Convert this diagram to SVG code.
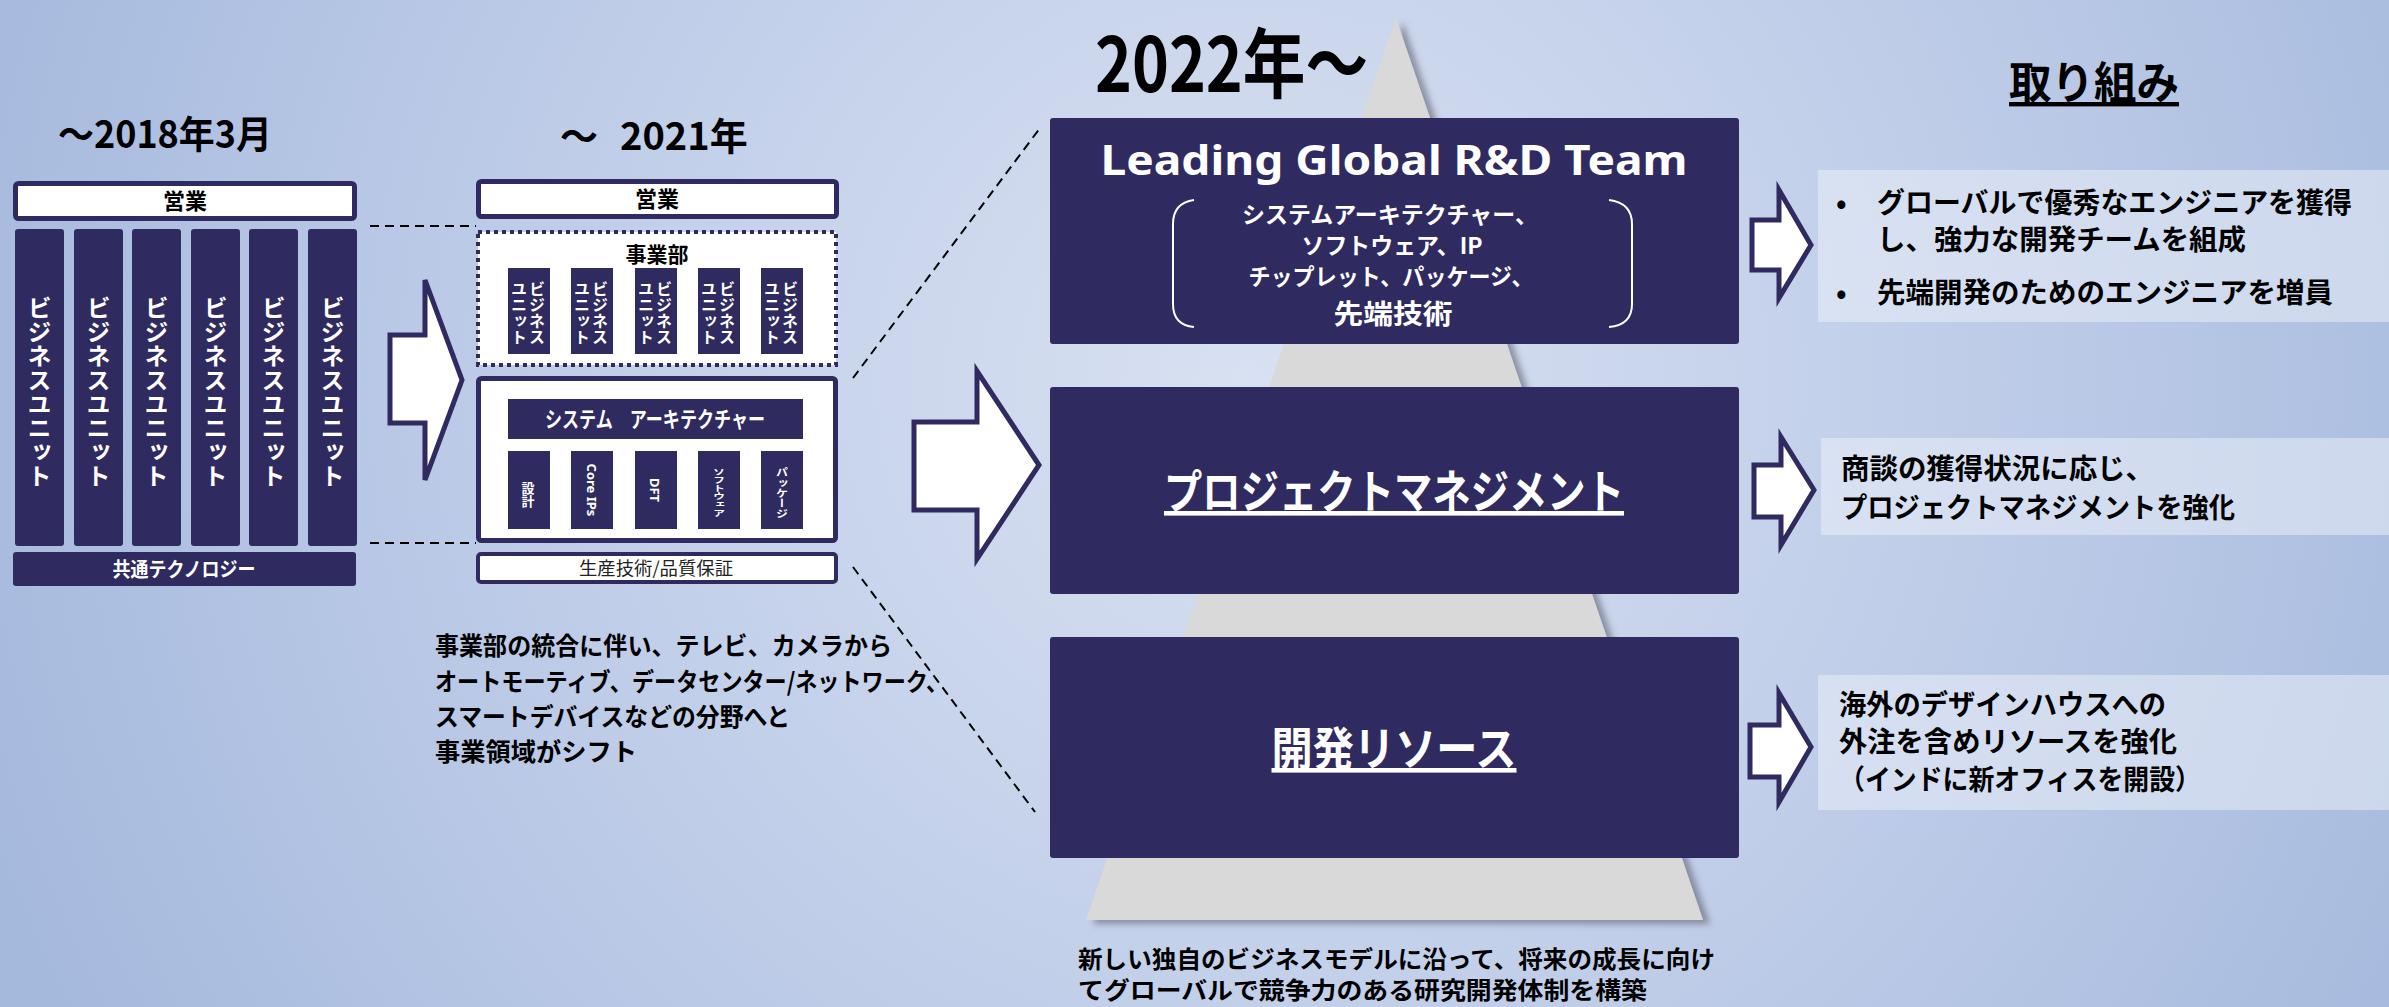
<svg xmlns="http://www.w3.org/2000/svg" width="2389" height="1007" viewBox="0 0 2389 1007">
<defs>
<radialGradient id="bg" gradientUnits="userSpaceOnUse" cx="1250" cy="380" r="1350">
<stop offset="0" stop-color="#d8e1f1"/>
<stop offset="0.45" stop-color="#c3d0ea"/>
<stop offset="1" stop-color="#a5b9dd"/>
</radialGradient>
<filter id="sh" x="-10%" y="-10%" width="130%" height="130%">
<feDropShadow dx="7" dy="4" stdDeviation="3" flood-color="#4a4a5a" flood-opacity="0.5"/>
</filter>
<style>
.jp{font-family:'Noto Sans CJK JP','Noto Sans',sans-serif;}
.lat{font-family:'Noto Sans','Noto Sans CJK JP',sans-serif;}
.b{font-weight:700;}
.w{fill:#ffffff;}
.k{fill:#000000;}
.mid{text-anchor:middle;}
.navy{fill:#2f2a60;}
.wbox{fill:#ffffff;stroke:#2f2a60;stroke-width:5;}
.v{writing-mode:vertical-rl;text-anchor:middle;}
.dash{fill:none;stroke:#000;stroke-width:2;stroke-dasharray:9 6;}
.arrow{fill:#ffffff;stroke:#2f2a60;stroke-width:5;stroke-linejoin:miter;}
.light{fill:#eef2fa;fill-opacity:0.5;}
.ul{text-decoration:underline;}
</style>
</defs>
<rect x="0" y="0" width="2389" height="1007" fill="url(#bg)"/>

<g id="era-2018">
<text class="jp b k" x="58" y="148" font-size="38" textLength="214" lengthAdjust="spacingAndGlyphs">～2018年3月</text>
<g id="sales-2018">
<rect class="wbox" x="15.5" y="183.5" width="339" height="35" rx="3"/>
<text class="jp b k mid" x="185" y="209" font-size="22">営業</text>
</g>
<g id="bu-2018">
<rect class="navy" x="15" y="229" width="49" height="317" rx="3"/>
<rect class="navy" x="74" y="229" width="49" height="317" rx="3"/>
<rect class="navy" x="132" y="229" width="49" height="317" rx="3"/>
<rect class="navy" x="191" y="229" width="49" height="317" rx="3"/>
<rect class="navy" x="249" y="229" width="49" height="317" rx="3"/>
<rect class="navy" x="308" y="229" width="49" height="317" rx="3"/>
<text class="jp b w v" x="39.5" y="392" font-size="24">ビジネスユニット</text>
<text class="jp b w v" x="98.5" y="392" font-size="24">ビジネスユニット</text>
<text class="jp b w v" x="156.5" y="392" font-size="24">ビジネスユニット</text>
<text class="jp b w v" x="215.5" y="392" font-size="24">ビジネスユニット</text>
<text class="jp b w v" x="273.5" y="392" font-size="24">ビジネスユニット</text>
<text class="jp b w v" x="332.5" y="392" font-size="24">ビジネスユニット</text>
</g>
<g id="common-tech">
<rect class="navy" x="13" y="552" width="343" height="34" rx="3"/>
<text class="jp b w mid" x="184" y="577" font-size="20" textLength="143" lengthAdjust="spacingAndGlyphs">共通テクノロジー</text>
</g>
</g>

<g id="era-2021">
<text class="jp b k" x="560" y="150" font-size="38">～ <tspan x="620">2021年</tspan></text>
<g id="sales-2021">
<rect class="wbox" x="478.5" y="181.5" width="358" height="35" rx="3"/>
<text class="jp b k mid" x="657" y="207" font-size="22">営業</text>
</g>
<g id="division">
<rect x="478" y="232" width="358" height="133" fill="#ffffff" stroke="#2f2a60" stroke-width="4" stroke-dasharray="4 4"/>
<text class="jp b k mid" x="657" y="262" font-size="21">事業部</text>
<rect class="navy" x="508" y="268" width="42" height="86"/>
<rect class="navy" x="571" y="268" width="42" height="86"/>
<rect class="navy" x="635" y="268" width="42" height="86"/>
<rect class="navy" x="698" y="268" width="42" height="86"/>
<rect class="navy" x="761" y="268" width="42" height="86"/>
<text class="jp b w v" x="537" y="313" font-size="16">ビジネス</text>
<text class="jp b w v" x="519" y="313" font-size="16">ユニット</text>
<text class="jp b w v" x="600" y="313" font-size="16">ビジネス</text>
<text class="jp b w v" x="582" y="313" font-size="16">ユニット</text>
<text class="jp b w v" x="664" y="313" font-size="16">ビジネス</text>
<text class="jp b w v" x="646" y="313" font-size="16">ユニット</text>
<text class="jp b w v" x="727" y="313" font-size="16">ビジネス</text>
<text class="jp b w v" x="709" y="313" font-size="16">ユニット</text>
<text class="jp b w v" x="790" y="313" font-size="16">ビジネス</text>
<text class="jp b w v" x="772" y="313" font-size="16">ユニット</text>
</g>
<g id="engineering">
<rect class="wbox" x="478.5" y="378.5" width="357" height="162" rx="3"/>
<rect class="navy" x="508" y="399" width="295" height="40"/>
<text class="jp b w mid" x="655" y="427" font-size="22" textLength="220" lengthAdjust="spacingAndGlyphs">システム　アーキテクチャー</text>
<rect class="navy" x="508" y="451" width="42" height="78"/>
<rect class="navy" x="571" y="451" width="42" height="78"/>
<rect class="navy" x="635" y="451" width="42" height="78"/>
<rect class="navy" x="698" y="451" width="42" height="78"/>
<rect class="navy" x="761" y="451" width="42" height="78"/>
<text class="jp b w v" x="528" y="495" font-size="13">設計</text>
<text class="lat b w v" x="592" y="490" font-size="13">Core IPs</text>
<text class="lat b w v" x="655" y="490" font-size="13">DFT</text>
<text class="jp b w v" x="719" y="492" font-size="12" textLength="49" lengthAdjust="spacingAndGlyphs">ソフトウェア</text>
<text class="jp b w v" x="782" y="493" font-size="12" textLength="52" lengthAdjust="spacingAndGlyphs">パッケージ</text>
</g>
<g id="production">
<rect x="478" y="554" width="358" height="28" rx="3" fill="#ffffff" stroke="#2f2a60" stroke-width="4"/>
<text class="jp mid" x="656" y="575" font-size="18" fill="#222" textLength="154" lengthAdjust="spacingAndGlyphs">生産技術/品質保証</text>
</g>
<g id="note-2021">
<text class="jp b k" x="435" y="655" font-size="25" textLength="457" lengthAdjust="spacingAndGlyphs">事業部の統合に伴い、テレビ、カメラから</text>
<text class="jp b k" x="435" y="691" font-size="25" textLength="513" lengthAdjust="spacingAndGlyphs">オートモーティブ、データセンター/ネットワーク、</text>
<text class="jp b k" x="435" y="726" font-size="25" textLength="355" lengthAdjust="spacingAndGlyphs">スマートデバイスなどの分野へと</text>
<text class="jp b k" x="435" y="761" font-size="25" textLength="202" lengthAdjust="spacingAndGlyphs">事業領域がシフト</text>
</g>
</g>

<g id="connectors">
<line class="dash" x1="370" y1="226" x2="476" y2="226"/>
<line class="dash" x1="370" y1="543" x2="476" y2="543"/>
<line class="dash" x1="853" y1="378" x2="1040" y2="128"/>
<line class="dash" x1="853" y1="567" x2="1035" y2="812"/>
<polygon class="arrow" points="390,335 425,335 425,280 462,380 425,480 425,423 390,423"/>
<polygon class="arrow" points="914,422 977,422 977,371 1039,465 977,559 977,510 914,510"/>
<polygon class="arrow" points="1752,220 1779,220 1779,190 1811,245 1779,298 1779,270 1752,270"/>
<polygon class="arrow" points="1754,465 1781,465 1781,437 1814,490 1781,545 1781,517 1754,517"/>
<polygon class="arrow" points="1750,725 1779,725 1779,693 1811,747 1779,802 1779,777 1750,777"/>
</g>

<g id="era-2022">
<polygon points="1396,18 1703,920 1086,920" fill="#d9d9d9" filter="url(#sh)"/>
<text class="jp b k" x="1095" y="92" font-size="76" textLength="273" lengthAdjust="spacingAndGlyphs">2022年～</text>
<g id="rd-team">
<rect class="navy" x="1050" y="118" width="689" height="226" rx="3"/>
<text class="lat b w mid" x="1394" y="175" font-size="41" textLength="587" lengthAdjust="spacingAndGlyphs">Leading Global R&amp;D Team</text>
<path d="M1194,200 Q1173,203 1173,224 L1173,304 Q1173,325 1194,327" fill="none" stroke="#fff" stroke-width="2"/>
<path d="M1609,200 Q1632,203 1632,224 L1632,304 Q1632,325 1609,327" fill="none" stroke="#fff" stroke-width="2"/>
<text class="jp b w mid" x="1390" y="223" font-size="23" textLength="296" lengthAdjust="spacingAndGlyphs">システムアーキテクチャー、</text>
<text class="jp b w mid" x="1392" y="254" font-size="23" textLength="181" lengthAdjust="spacingAndGlyphs">ソフトウェア、IP</text>
<text class="jp b w mid" x="1391" y="285" font-size="23" textLength="285" lengthAdjust="spacingAndGlyphs">チップレット、パッケージ、</text>
<text class="jp b w mid" x="1393" y="324" font-size="27" textLength="119" lengthAdjust="spacingAndGlyphs">先端技術</text>
</g>
<g id="project-mgmt">
<rect class="navy" x="1050" y="387" width="689" height="207" rx="3"/>
<text class="jp b w mid ul" x="1394" y="508" font-size="46" textLength="460" lengthAdjust="spacingAndGlyphs">プロジェクトマネジメント</text>
</g>
<g id="dev-resource">
<rect class="navy" x="1050" y="637" width="689" height="221" rx="3"/>
<text class="jp b w mid ul" x="1394" y="765" font-size="46" textLength="245" lengthAdjust="spacingAndGlyphs">開発リソース</text>
</g>
<g id="note-2022">
<text class="jp b k" x="1078" y="968" font-size="24" textLength="637" lengthAdjust="spacingAndGlyphs">新しい独自のビジネスモデルに沿って、将来の成長に向け</text>
<text class="jp b k" x="1078" y="999" font-size="24" textLength="569" lengthAdjust="spacingAndGlyphs">てグローバルで競争力のある研究開発体制を構築</text>
</g>
</g>

<g id="initiatives">
<text class="jp b k mid ul" x="2094" y="99" font-size="44" textLength="170" lengthAdjust="spacingAndGlyphs">取り組み</text>
<g id="init-1">
<rect class="light" x="1818" y="170" width="571" height="152"/>
<text class="jp b k" x="1836" y="213" font-size="28">•</text>
<text class="jp b k" x="1877" y="213" font-size="28" textLength="475" lengthAdjust="spacingAndGlyphs">グローバルで優秀なエンジニアを獲得</text>
<text class="jp b k" x="1877" y="250" font-size="28" textLength="369" lengthAdjust="spacingAndGlyphs">し、強力な開発チームを組成</text>
<text class="jp b k" x="1836" y="303" font-size="28">•</text>
<text class="jp b k" x="1877" y="303" font-size="28" textLength="456" lengthAdjust="spacingAndGlyphs">先端開発のためのエンジニアを増員</text>
</g>
<g id="init-2">
<rect class="light" x="1821" y="438" width="568" height="97"/>
<text class="jp b k" x="1841" y="479" font-size="28" textLength="313" lengthAdjust="spacingAndGlyphs">商談の獲得状況に応じ、</text>
<text class="jp b k" x="1841" y="518" font-size="28" textLength="394" lengthAdjust="spacingAndGlyphs">プロジェクトマネジメントを強化</text>
</g>
<g id="init-3">
<rect class="light" x="1818" y="675" width="571" height="135"/>
<text class="jp b k" x="1839" y="715" font-size="28" textLength="327" lengthAdjust="spacingAndGlyphs">海外のデザインハウスへの</text>
<text class="jp b k" x="1839" y="752" font-size="28" textLength="338" lengthAdjust="spacingAndGlyphs">外注を含めリソースを強化</text>
<text class="jp b k" x="1839" y="790" font-size="28" textLength="362" lengthAdjust="spacingAndGlyphs">（インドに新オフィスを開設）</text>
</g>
</g>
</svg>
